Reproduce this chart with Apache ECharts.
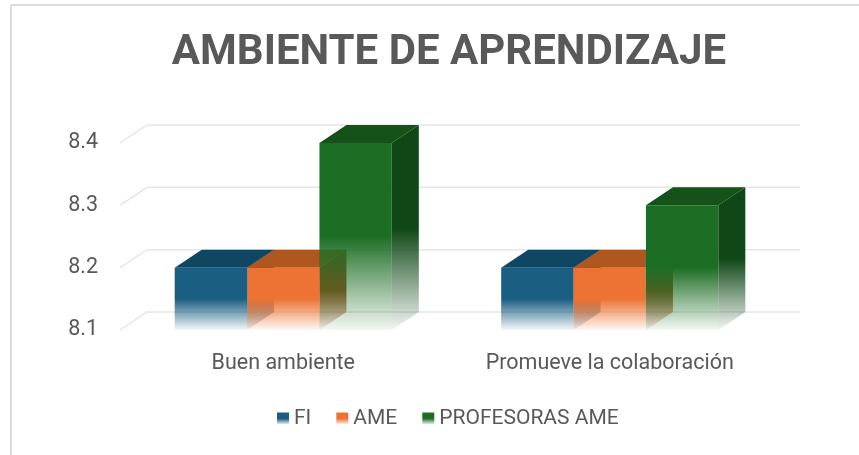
<!DOCTYPE html>
<html>
<head>
<meta charset="utf-8">
<script src="https://cdn.jsdelivr.net/npm/echarts@6/dist/echarts.min.js"></script>
<style>
  html, body { margin: 0; padding: 0; background: #fff; }
  #chart { width: 859px; height: 455px; }
</style>
</head>
<body>
<div id="chart"></div>
<script>
// data
const categories = ['Buen ambiente', 'Promueve la colaboración'];
const seriesNames = ['FI', 'AME', 'PROFESORAS AME'];
const fiValues = [8.2, 8.2];
const ameValues = [8.2, 8.2];
const profValues = [8.4, 8.3];
const yTicks = [8.1, 8.2, 8.3, 8.4];

// looks
const colors = ['#1a5e82', '#ec7333', '#1d6e25'];
const topColors = ['#0f4661', '#b0561f', '#14521a'];
const sideColors = ['#114a66', '#9c4a1b', '#0f4716'];
const textColor = '#595959';
const gridColor = '#e6e6e6';
const DX = 27;   // depth offset of the 3d box
const DY = -18;
const GAP = 0.335;

function rgba(hex, a) {
    const n = parseInt(hex.slice(1), 16);
    return `rgba(${(n >> 16) & 255},${(n >> 8) & 255},${n & 255},${a})`;
}

function fade(hex) {
    return new echarts.graphic.LinearGradient(0, 0, 0, 1, [
        { offset: 0, color: hex },
        { offset: 0.5, color: hex },
        { offset: 1, color: rgba(hex, 0.05) }
    ]);
}

function renderGrid(params, api) {
    const cs = params.coordSys;
    const y = api.coord([0, api.value(1)])[1];
    const left = cs.x;
    const right = cs.x + cs.width;
    return {
        type: 'polyline',
        shape: { points: [[left, y], [left + DX, y + DY], [right + DX, y + DY]] },
        style: { stroke: gridColor, lineWidth: 1.5, fill: null },
        silent: true
    };
}

function renderBox(idx) {
    return function (params, api) {
        const cat = api.value(0);
        const top = api.coord([cat, api.value(1)]);
        const base = api.coord([cat, yTicks[0]]);
        const band = api.size([1, 0])[0];
        const bw = band * (1 - GAP) / 3;
        const x0 = top[0] - 1.5 * bw + idx * bw;
        const x1 = x0 + bw;
        const yT = top[1];
        const yB = base[1];
        return {
            type: 'group',
            children: [
                {
                    type: 'polygon',
                    z2: idx * 3,
                    shape: { points: [[x1, yT], [x1 + DX, yT + DY], [x1 + DX, yB + DY], [x1, yB]] },
                    style: { fill: fade(sideColors[idx]) }
                },
                {
                    type: 'polygon',
                    z2: idx * 3 + 1,
                    shape: { points: [[x0, yT], [x0 + DX, yT + DY], [x1 + DX, yT + DY], [x1, yT]] },
                    style: { fill: topColors[idx] }
                },
                {
                    type: 'rect',
                    z2: idx * 3 + 2,
                    shape: { x: x0, y: yT, width: bw, height: yB - yT },
                    style: { fill: fade(colors[idx]) }
                }
            ]
        };
    };
}

const chart = echarts.init(document.getElementById('chart'), null, { renderer: 'canvas' });

const valueLists = [fiValues, ameValues, profValues];
const boxSeries = seriesNames.map((name, i) => ({
    name: name,
    type: 'custom',
    renderItem: renderBox(i),
    itemStyle: { color: fade(colors[i]) },
    encode: { x: 0, y: 1 },
    data: valueLists[i].map((v, c) => [c, v]),
    z: 2
}));

const option = {
    animation: false,
    backgroundColor: '#fff',
    title: {
        text: 'AMBIENTE DE APRENDIZAJE',
        left: 444,
        top: 27,
        textAlign: 'center',
        textStyle: {
            fontFamily: 'Roboto',
            fontWeight: 'bold',
            fontSize: 42,
            color: textColor
        }
    },
    legend: {
        data: seriesNames,
        left: 272,
        top: 403,
        icon: 'rect',
        itemWidth: 12,
        itemHeight: 12,
        itemGap: 25,
        textStyle: { fontFamily: 'Roboto', fontSize: 21, color: textColor }
    },
    graphic: [
        { type: 'line', shape: { x1: 11, y1: 5, x2: 859, y2: 5 }, style: { stroke: '#dcdcdc', lineWidth: 2 } },
        { type: 'line', shape: { x1: 11, y1: 5, x2: 11, y2: 455 }, style: { stroke: '#dcdcdc', lineWidth: 2 } }
    ],
    grid: { left: 120, right: 86, top: 143, bottom: 125 },
    xAxis: {
        type: 'category',
        data: categories,
        axisLine: { show: false },
        axisTick: { show: false },
        axisLabel: { margin: 23, fontFamily: 'Roboto', fontSize: 21.5, color: textColor }
    },
    yAxis: {
        type: 'value',
        min: yTicks[0],
        max: yTicks[yTicks.length - 1],
        interval: 0.1,
        axisLine: { show: false },
        axisTick: { show: false },
        splitLine: { show: false },
        axisLabel: {
            margin: 22,
            fontFamily: 'Roboto',
            fontSize: 21.5,
            color: textColor,
            formatter: v => v.toFixed(1)
        }
    },
    series: [
        {
            name: 'grid3d',
            type: 'custom',
            renderItem: renderGrid,
            encode: { x: 0, y: 1 },
            data: yTicks.map(t => [0, t]),
            silent: true,
            z: 1
        }
    ].concat(boxSeries)
};

chart.setOption(option);
</script>
</body>
</html>
